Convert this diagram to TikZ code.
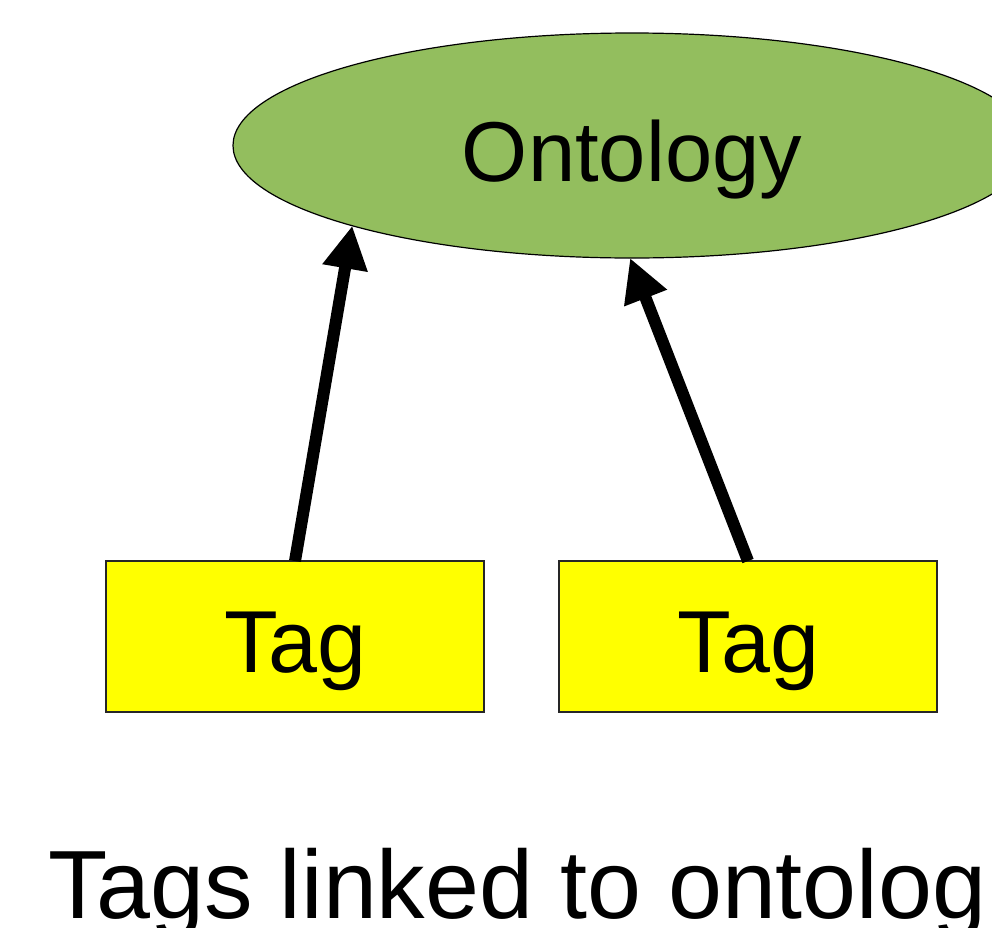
\documentclass[tikz,border=0pt]{standalone}
\usepackage{fontspec}
\setmainfont{Liberation Sans}
\usetikzlibrary{arrows.meta,shapes.geometric}
\definecolor{ontogreen}{RGB}{147,190,94}
\definecolor{tagyellow}{RGB}{255,255,0}
\begin{document}
\begin{tikzpicture}[x=1pt,y=-1pt,
  onto/.style={ellipse, draw=black, line width=1.2pt, fill=ontogreen,
    minimum width=798pt, minimum height=225pt, inner sep=0pt, outer sep=0pt,
    font=\fontsize{85}{90}\selectfont, text height=72pt, text depth=0pt},
  tagbox/.style={rectangle, draw=black!85, line width=1.5pt, fill=tagyellow,
    minimum width=378pt, minimum height=151pt, inner sep=0pt, outer sep=0pt,
    font=\fontsize{88}{90}\selectfont, text height=71pt, text depth=0pt},
  link/.style={line width=12pt, -{Triangle[length=43pt,width=43pt]}},
  caption/.style={font=\fontsize{97}{100}\selectfont, anchor=base west, inner sep=0pt}]
\useasboundingbox (0,0) rectangle (992,927);
\clip (0,0) rectangle (992,927);
\node[onto] (ontology) at (632,145.5) {Ontology};
\node[tagbox] (tag1) at (295,636.5) {Tag};
\node[tagbox] (tag2) at (748,636.5) {Tag};
\draw[link] (tag1.north) -- (ontology.196.1);
\draw[link] (tag2.north) -- (ontology.269);
\node[caption] (cap) at (48,918) {Tags linked to ontolog};
\end{tikzpicture}
\end{document}
